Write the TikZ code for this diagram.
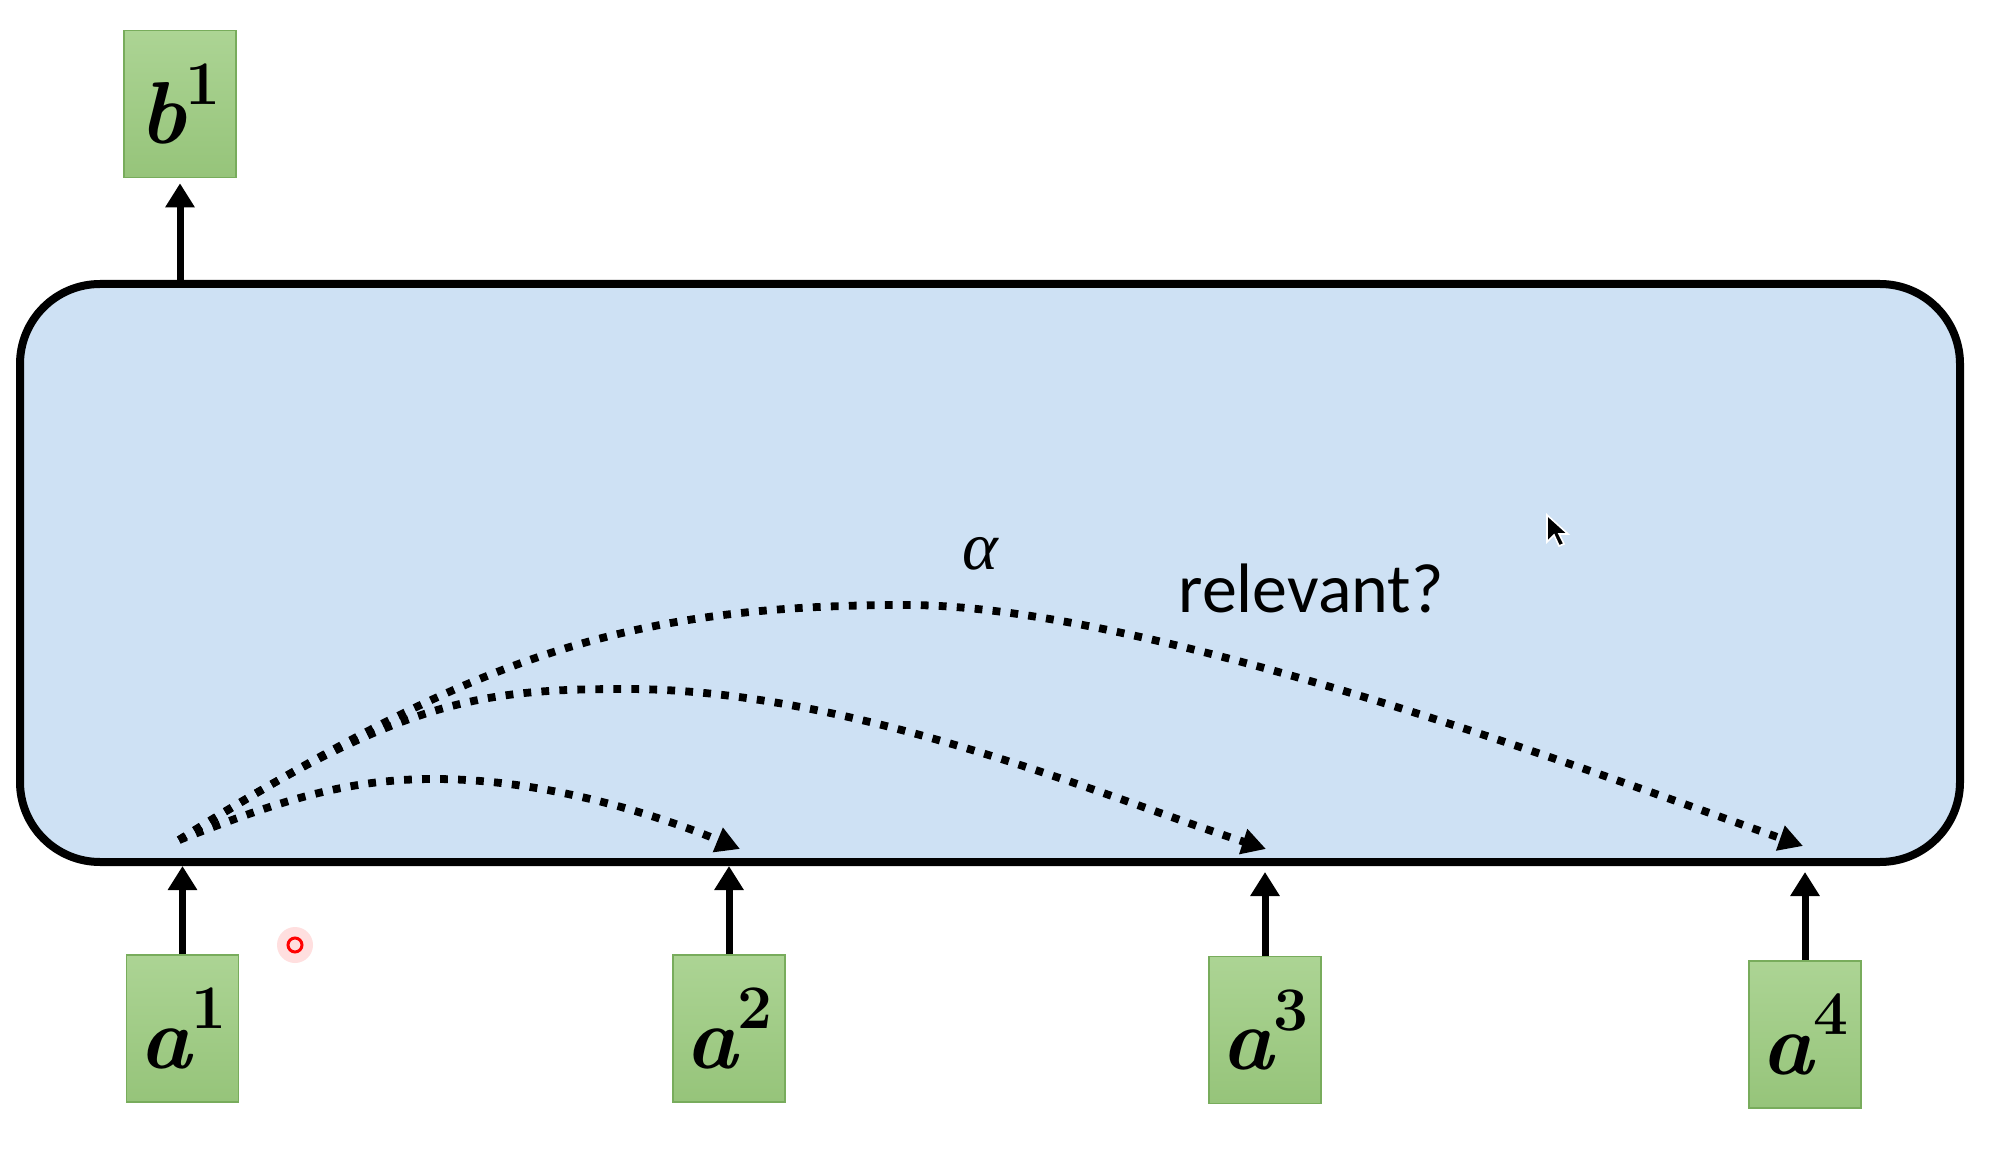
\documentclass[tikz,border=0pt]{standalone}
\usepackage{fontspec}
\newfontfamily\carlito{Carlito}
\newfontfamily\libserif{Liberation Serif}
\usetikzlibrary{arrows.meta}
\definecolor{gtop}{RGB}{172,212,148}
\definecolor{gbot}{RGB}{150,196,122}
\definecolor{gline}{RGB}{120,172,92}
\definecolor{panelblue}{RGB}{206,225,244}
\newcommand\boxlbl[2]{{\bfseries\itshape #1}\raisebox{0.45em}{\fontsize{31}{32}\selectfont\bfseries #2}}
\begin{document}
\begin{tikzpicture}[x=0.5pt,y=-0.5pt,
  gbox/.style={draw=gline, line width=0.8pt, top color=gtop, bottom color=gbot,
    minimum width=56pt, minimum height=73.5pt, inner sep=0pt,
    font=\fontsize{44}{48}\selectfont},
  solidarr/.style={line width=3.5pt, -{Triangle[length=12pt,width=14pt]}},
  dotarr/.style={line width=3.9pt, dash pattern=on 3.9pt off 5.1pt,
    -{Triangle[length=12pt,width=12.5pt]}},
]
\useasboundingbox (0,0) rectangle (2002,1170);
% main panel
\node[draw, line width=4pt, fill=panelblue, rounded corners=40pt,
  minimum width=970pt, minimum height=289pt, inner sep=0pt] (panel) at (990,573) {};
% boxes
\node[gbox] (b1) at (180,104) {\boxlbl{b}{1}};
\node[gbox] (a1) at (182.5,1028.5) {\boxlbl{a}{1}};
\node[gbox] (a2) at (729,1028.5) {\boxlbl{a}{2}};
\node[gbox] (a3) at (1265,1030) {\boxlbl{a}{3}};
\node[gbox] (a4) at (1805,1034.5) {\boxlbl{a}{4}};
% solid arrows
\draw[solidarr, shorten >=2.5pt] (b1.south |- panel.north) -- (b1.south);
\draw[solidarr] (a1.north) -- (a1.north |- panel.south);
\draw[solidarr] (a2.north) -- (a2.north |- panel.south);
\draw[solidarr, shorten >=3pt] (a3.north) -- (a3.north |- panel.south);
\draw[solidarr, shorten >=3pt] (a4.north) -- (a4.north |- panel.south);
% dotted attention arcs
\coordinate (s) at (179,840);
\coordinate (e2) at (740,849);
\coordinate (e3) at (1266,849);
\coordinate (e4) at (1803,846);
\draw[dotarr] (s) .. controls (270,805) and (340,779) .. (434,779)
  .. controls (540,779) and (650,812) .. (e2);
\draw[dotarr] (s) .. controls (400,700) and (480,689) .. (626,689)
  .. controls (850,689) and (1100,795) .. (e3);
\draw[dotarr] (s) .. controls (470,660) and (620,605) .. (906,605)
  .. controls (1150,605) and (1600,775) .. (e4);
% labels
\node[font=\libserif\itshape\fontsize{34}{38}\selectfont, anchor=base, inner sep=0pt] (alpha) at (980,570) {α};
\node[font=\carlito\fontsize{35}{40}\selectfont, anchor=base, inner sep=0pt] (rel) at (1311,612) {relevant?};
% laser pointer dot
\fill[red!25, opacity=0.5] (295,945) circle (9pt);
\draw[red, line width=1.5pt] (295,945) circle (3.5pt);
% mouse cursor
\draw[white, line width=0.8pt, fill=black] (1547,515) -- (1547,542) -- (1554,535) -- (1559,546) -- (1564,544) -- (1559,534) -- (1568,534) -- cycle;
\end{tikzpicture}
\end{document}
